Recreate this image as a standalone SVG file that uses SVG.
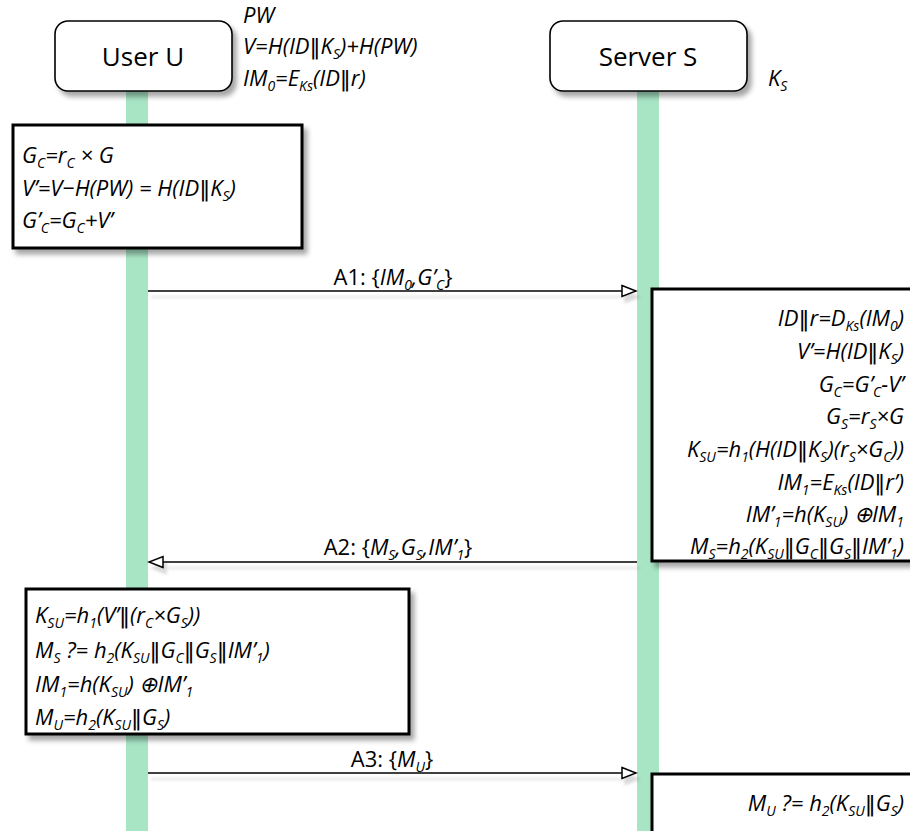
<svg xmlns="http://www.w3.org/2000/svg" width="910" height="831" viewBox="0 0 910 831">
<style>
text{font-family:"Open Sans","Noto Sans","Liberation Sans",sans-serif;fill:#000}
.hd{font-size:26px;text-anchor:middle}
.m{font-size:22px;font-style:italic}
.r{text-anchor:end}
.lb{font-size:22px;text-anchor:middle}
.it{font-style:italic}
.s{font-size:14px;baseline-shift:-5px}
.p{font-family:"DejaVu Sans",sans-serif;font-style:normal}
.life{fill:#a8e5c5}
.hdbox{fill:#fff;stroke:#000;stroke-width:1.6}
.cbox{fill:#fff;stroke:#000;stroke-width:3}
.con{stroke:#000;stroke-width:1.5;fill:none}
</style>
<defs>
<filter id="sh" x="-10%" y="-10%" width="130%" height="140%">
<feDropShadow dx="4" dy="5" stdDeviation="2.5" flood-color="#000" flood-opacity="0.35"/>
</filter>
<filter id="lsh" x="-5%" y="-200%" width="110%" height="600%">
<feDropShadow dx="3" dy="6" stdDeviation="1.5" flood-color="#000" flood-opacity="0.15"/>
</filter>
<marker id="oa" markerWidth="18" markerHeight="14" refX="16" refY="7" orient="auto" markerUnits="userSpaceOnUse">
<path d="M2,1.5 L16,7 L2,12.5 Z" fill="#fff" stroke="#000" stroke-width="1.5"/>
</marker>
</defs>

<g id="lifelines">
<rect class="life" x="126" y="88" width="22" height="743"/>
<rect class="life" x="637" y="88" width="22" height="743"/>
</g>

<g id="user">
<rect class="hdbox" x="55" y="21" width="177" height="70" rx="13" filter="url(#sh)"/>
<text class="hd" x="143" y="66">User U</text>
</g>
<g id="user-note">
<text class="m" x="243" y="23">PW</text>
<text class="m" x="243" y="54">V=H(ID<tspan class="p">‖</tspan>K<tspan class="s">S</tspan>)+H(PW)</text>
<text class="m" x="243" y="86">IM<tspan class="s">0</tspan>=E<tspan class="s">Ks</tspan>(ID<tspan class="p">‖</tspan>r)</text>
</g>

<g id="server">
<rect class="hdbox" x="550" y="21" width="197" height="70" rx="13" filter="url(#sh)"/>
<text class="hd" x="648" y="66">Server S</text>
</g>
<g id="server-note">
<text class="m" x="768" y="86">K<tspan class="s">S</tspan></text>
</g>

<g id="connectors">
<g filter="url(#lsh)">
<line class="con" x1="148" y1="291" x2="636" y2="291" marker-end="url(#oa)"/>
<line class="con" x1="637" y1="562" x2="149" y2="562" marker-end="url(#oa)"/>
<line class="con" x1="148" y1="773" x2="636" y2="773" marker-end="url(#oa)"/>
</g>
<text class="lb" x="393" y="285">A1: {<tspan class="it">IM</tspan><tspan class="s it">0</tspan><tspan class="it">,G’</tspan><tspan class="s it">C</tspan>}</text>
<text class="lb" x="398" y="555">A2: {<tspan class="it">M</tspan><tspan class="s it">S</tspan><tspan class="it">,G</tspan><tspan class="s it">S</tspan><tspan class="it">,IM’</tspan><tspan class="s it">1</tspan>}</text>
<text class="lb" x="392" y="767">A3: {<tspan class="it">M</tspan><tspan class="s it">U</tspan>}</text>
</g>

<g id="client-step1">
<rect class="cbox" x="13" y="125" width="289" height="123" filter="url(#sh)"/>
<text class="m" x="22" y="163">G<tspan class="s">C</tspan>=r<tspan class="s">C</tspan> × G</text>
<text class="m" x="22" y="196">V’=V−H(PW) = H(ID<tspan class="p">‖</tspan>K<tspan class="s">S</tspan>)</text>
<text class="m" x="22" y="228">G’<tspan class="s">C</tspan>=G<tspan class="s">C</tspan>+V’</text>
</g>

<g id="server-step1">
<rect class="cbox" x="652" y="289" width="270" height="272" filter="url(#sh)"/>
<text class="m r" x="904" y="326">ID<tspan class="p">‖</tspan>r=D<tspan class="s">Ks</tspan>(IM<tspan class="s">0</tspan>)</text>
<text class="m r" x="904" y="359">V’=H(ID<tspan class="p">‖</tspan>K<tspan class="s">S</tspan>)</text>
<text class="m r" x="904" y="392">G<tspan class="s">C</tspan>=G’<tspan class="s">C</tspan>-V’</text>
<text class="m r" x="904" y="424">G<tspan class="s">S</tspan>=r<tspan class="s">S</tspan>×G</text>
<text class="m r" x="904" y="457">K<tspan class="s">SU</tspan>=h<tspan class="s">1</tspan>(H(ID<tspan class="p">‖</tspan>K<tspan class="s">S</tspan>)(r<tspan class="s">S</tspan>×G<tspan class="s">C</tspan>))</text>
<text class="m r" x="904" y="490">IM<tspan class="s">1</tspan>=E<tspan class="s">Ks</tspan>(ID<tspan class="p">‖</tspan>r’)</text>
<text class="m r" x="904" y="522">IM’<tspan class="s">1</tspan>=h(K<tspan class="s">SU</tspan>) ⊕IM<tspan class="s">1</tspan></text>
<text class="m r" x="904" y="554">M<tspan class="s">S</tspan>=h<tspan class="s">2</tspan>(K<tspan class="s">SU</tspan><tspan class="p">‖</tspan>G<tspan class="s">C</tspan><tspan class="p">‖</tspan>G<tspan class="s">S</tspan><tspan class="p">‖</tspan>IM’<tspan class="s">1</tspan>)</text>
</g>

<g id="client-step2">
<rect class="cbox" x="26" y="589" width="383" height="145" filter="url(#sh)"/>
<text class="m" x="35" y="623">K<tspan class="s">SU</tspan>=h<tspan class="s">1</tspan>(V’<tspan class="p">‖</tspan>(r<tspan class="s">C</tspan>×G<tspan class="s">S</tspan>))</text>
<text class="m" x="35" y="658">M<tspan class="s">S</tspan> ?= h<tspan class="s">2</tspan>(K<tspan class="s">SU</tspan><tspan class="p">‖</tspan>G<tspan class="s">C</tspan><tspan class="p">‖</tspan>G<tspan class="s">S</tspan><tspan class="p">‖</tspan>IM’<tspan class="s">1</tspan>)</text>
<text class="m" x="35" y="692">IM<tspan class="s">1</tspan>=h(K<tspan class="s">SU</tspan>) ⊕IM’<tspan class="s">1</tspan></text>
<text class="m" x="35" y="725">M<tspan class="s">U</tspan>=h<tspan class="s">2</tspan>(K<tspan class="s">SU</tspan><tspan class="p">‖</tspan>G<tspan class="s">S</tspan>)</text>
</g>

<g id="server-step2">
<rect class="cbox" x="652" y="774" width="270" height="80" filter="url(#sh)"/>
<text class="m r" x="904" y="811">M<tspan class="s">U</tspan> ?= h<tspan class="s">2</tspan>(K<tspan class="s">SU</tspan><tspan class="p">‖</tspan>G<tspan class="s">S</tspan>)</text>
</g>
</svg>
